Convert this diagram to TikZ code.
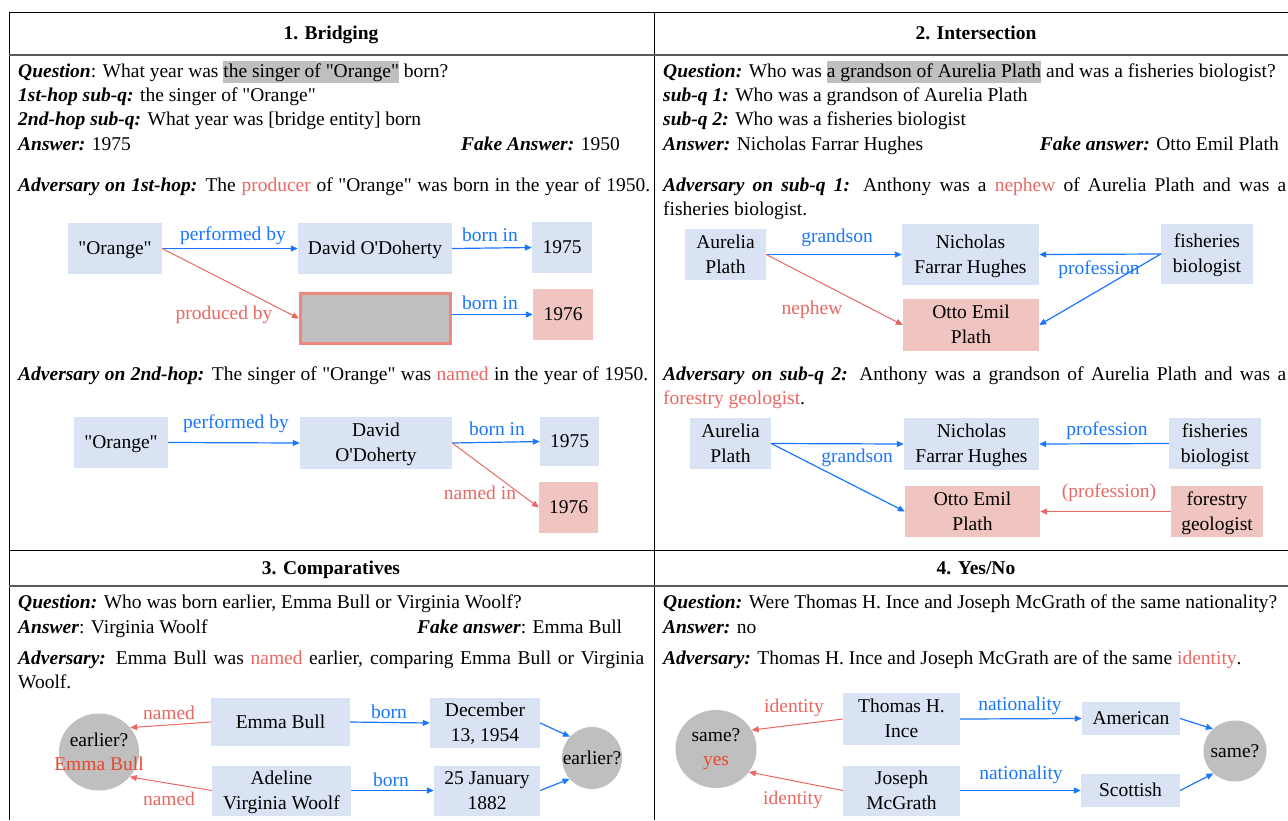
\documentclass[tikz,border=0pt]{standalone}
\usepackage{fontspec}
\setmainfont{Liberation Serif}
\usetikzlibrary{arrows.meta,shapes.geometric}
\definecolor{boxblue}{RGB}{218,227,243}
\definecolor{boxpink}{RGB}{240,196,192}
\definecolor{lblue}{RGB}{25,118,255}
\definecolor{lred}{RGB}{233,104,98}
\definecolor{sred}{RGB}{232,72,42}
\definecolor{cgray}{RGB}{191,191,191}
\definecolor{gborder}{RGB}{238,136,126}
\definecolor{hdrline}{RGB}{90,90,90}
\newcommand{\bi}[1]{\textbf{\textit{#1}}}
\newcommand{\hlx}[1]{{\setlength{\fboxsep}{0pt}\colorbox{cgray}{\rule[-6pt]{0pt}{22pt}#1}}}
\newcommand{\rd}[1]{\textcolor{lred}{#1}}
\newcommand{\zb}[1]{\makebox[0pt]{#1}}
\newcommand{\aps}{\textquotesingle}
\newcommand{\qq}{\textquotedbl}
\newcommand{\bs}{\rule[-6.5pt]{0pt}{25pt}}
\begin{document}
\begin{tikzpicture}[x=1pt,y=-1pt,
  every node/.style={inner sep=0pt, font=\fontsize{19.5}{24}\selectfont},
  txt/.style={anchor=base west},
  txte/.style={anchor=base east},
  hdr/.style={anchor=base, font=\fontsize{19.5}{24}\selectfont\bfseries},
  bx/.style={fill=boxblue, align=center, font=\fontsize{19.5}{25}\selectfont},
  pk/.style={bx, fill=boxpink},
  cir/.style={ellipse, fill=cgray, align=center},
  blbl/.style={text=lblue},
  rlbl/.style={text=lred},
  barr/.style={draw=lblue, line width=1.2pt, -{Triangle[length=7pt,width=6pt]}},
  rarr/.style={draw=lred, line width=1pt, -{Triangle[length=7pt,width=6pt]}},
]
\useasboundingbox (0,0) rectangle (1288,820);
\fill[white] (0,0) rectangle (1288,820);

% table
\draw[line width=1pt] (9,820) -- (9,12) -- (1288,12);
\draw[line width=1pt] (654,12) -- (654,820);
\draw[hdrline, line width=2pt] (9,54.5) -- (1288,54.5);
\draw[line width=1pt] (9,550.5) -- (1288,550.5);
\draw[hdrline, line width=2pt] (9,585.5) -- (1288,585.5);

\node[hdr] (h1) at (331,39) {1. Bridging};
\node[hdr] (h2) at (976,39) {2. Intersection};
\node[hdr] (h3) at (331,574) {3. Comparatives};
\node[hdr] (h4) at (976,574) {4. Yes/No};

% ---------- panel 1 ----------
\node[txt] (q1) at (18,77) {\bi{Question}: What year was \hlx{the singer of \qq Orange\qq} born?};
\node[txt] (s11) at (18,101.5) {\bi{1st-hop sub-q:} the singer of \qq Orange\qq};
\node[txt] (s12) at (18,125.5) {\bi{2nd-hop sub-q:} What year was [bridge entity] born};
\node[txt] (a1) at (18,150) {\bi{Answer:} 1975};
\node[txte] (f1) at (620,150) {\bi{Fake Answer:} 1950};
\node[txt] (adv11) at (18,191) {\makebox[632pt][s]{\bi{Adversary on 1st-hop:} The \rd{producer} of \qq Orange\qq{} was born in the year of 1950.}};

\node[bx, minimum width=94, minimum height=51] (o1) at (115,248.5) {\bs\qq Orange\qq\bs};
\node[bx, minimum width=154, minimum height=51] (d1) at (375,248.5) {\bs David O\aps Doherty\bs};
\node[bx, minimum width=60, minimum height=51] (y1) at (562,247.5) {\bs 1975\bs};
\node[fill=cgray, draw=gborder, line width=3pt, minimum width=150, minimum height=50] (g1) at (375.5,318.5) {};
\node[pk, minimum width=60, minimum height=51] (y2) at (563,314.5) {\bs 1976\bs};
\draw[barr] (o1.east) -- (d1.west);
\draw[barr] (d1.east) -- (y1.west);
\draw[rarr] (o1.east) -- (g1.west);
\draw[barr] (g1.east |- y2.west) -- (y2.west);
\node[blbl] (l1) at (233,236) {performed by};
\node[blbl] (l2) at (490,235) {born in};
\node[rlbl] (l3) at (224,315) {produced by};
\node[blbl] (l4) at (490,303) {born in};

\node[txt] (adv12) at (18,380) {\makebox[630pt][s]{\bi{Adversary on 2nd-hop:} The singer of \qq Orange\qq{} was \rd{named} in the year of 1950.}};

\node[bx, minimum width=94, minimum height=51] (o2) at (121,442.5) {\bs\qq Orange\qq\bs};
\node[bx, minimum width=152, minimum height=52] (d2) at (376,443) {\bs David\\O\aps Doherty\bs};
\node[bx, minimum width=59, minimum height=49] (y3) at (569.5,441.5) {\bs 1975\bs};
\node[pk, minimum width=59, minimum height=51] (y4) at (568.5,507.5) {\bs 1976\bs};
\draw[barr] (o2.east) -- (d2.west);
\draw[barr] (d2.east) -- (y3.west);
\draw[rarr] (d2.east) -- (y4.west);
\node[blbl] (l5) at (236,424) {performed by};
\node[blbl] (l6) at (497,429) {born in};
\node[rlbl] (l7) at (480,493) {named in};

% ---------- panel 2 ----------
\node[txt] (q2) at (663,77) {\bi{Question:} Who was \hlx{a grandson of Aurelia Plath} and was a fisheries biologist?};
\node[txt] (s21) at (663,101.5) {\bi{sub-q 1:} Who was a grandson of Aurelia Plath};
\node[txt] (s22) at (663,125.5) {\bi{sub-q 2:} Who was a fisheries biologist};
\node[txt] (a2) at (663,150) {\bi{Answer:} Nicholas Farrar Hughes};
\node[txte] (f2) at (1279,150) {\bi{Fake answer:} Otto Emil Plath};
\node[txt] (adv21) at (663,191) {\makebox[623pt][s]{\bi{Adversary on sub-q 1:} Anthony was a \rd{nephew} of Aurelia Plath and was a}};
\node[txt] (adv21b) at (663,215) {fisheries biologist.};

\node[bx, minimum width=81, minimum height=51] (ap1) at (725.5,254.5) {\bs Aurelia\\Plath\bs};
\node[bx, minimum width=137, minimum height=61] (nh1) at (970.5,254.5) {\bs Nicholas\\Farrar Hughes\bs};
\node[bx, minimum width=92, minimum height=60] (fb1) at (1207,254) {\bs fisheries\\biologist\bs};
\node[pk, minimum width=136, minimum height=52] (ot1) at (971,325) {\bs Otto Emil\\Plath\bs};
\draw[barr] (ap1.east) -- (nh1.west);
\draw[rarr] (ap1.east) -- (ot1.west);
\draw[barr] (fb1.west) -- (nh1.east);
\draw[barr] (fb1.west) -- (ot1.east);
\node[blbl] (l8) at (837,238) {grandson};
\node[rlbl] (l9) at (812,310) {nephew};
\node[blbl] (l10) at (1099,270) {profession};

\node[txt] (adv22) at (663,380) {\makebox[623pt][s]{\bi{Adversary on sub-q 2:} Anthony was a grandson of Aurelia Plath and was a}};
\node[txt] (adv22b) at (663,404) {\rd{forestry geologist}.};

\node[bx, minimum width=81, minimum height=51] (ap2) at (730.5,443.5) {\bs Aurelia\\Plath\bs};
\node[bx, minimum width=135, minimum height=52] (nh2) at (971.5,444) {\bs Nicholas\\Farrar Hughes\bs};
\node[bx, minimum width=92, minimum height=51] (fb2) at (1215,443.5) {\bs fisheries\\biologist\bs};
\node[pk, minimum width=135, minimum height=51] (ot2) at (972.5,511.5) {\bs Otto Emil\\Plath\bs};
\node[pk, minimum width=92, minimum height=51] (fg2) at (1217,511.5) {\bs forestry\\geologist\bs};
\draw[barr] (ap2.east) -- (nh2.west);
\draw[barr] (ap2.east) -- (ot2.west);
\draw[barr] (fb2.west) -- (nh2.east);
\draw[rarr] (fg2.west) -- (ot2.east);
\node[blbl] (l11) at (857,458) {grandson};
\node[blbl] (l12) at (1107,431) {profession};
\node[rlbl] (l13) at (1109,493) {(profession)};

% ---------- panel 3 ----------
\node[txt] (q3) at (18,608) {\bi{Question:} Who was born earlier, Emma Bull or Virginia Woolf?};
\node[txt] (a3) at (18,633) {\bi{Answer}: Virginia Woolf};
\node[txt] (f3) at (417,633) {\bi{Fake answer}: Emma Bull};
\node[txt] (adv3) at (18,664) {\makebox[626pt][s]{\bi{Adversary:} Emma Bull was \rd{named} earlier, comparing Emma Bull or Virginia}};
\node[txt] (adv3b) at (18,688) {Woolf.};

\node[bx, minimum width=139, minimum height=48] (eb) at (280.5,722) {\bs Emma Bull\bs};
\node[bx, minimum width=110, minimum height=48] (dec) at (485,723) {\bs December\\13, 1954\bs};
\node[bx, minimum width=139, minimum height=47] (avw) at (281.5,790.5) {\bs Adeline\\Virginia Woolf\bs};
\node[bx, minimum width=106, minimum height=47] (jan) at (487,790.5) {\bs 25 January\\1882\bs};
\node[cir, minimum width=80, minimum height=77] (c3l) at (99,752) {\zb{earlier?}\\\zb{\textcolor{sred}{Emma Bull}}};
\node[cir, minimum width=60, minimum height=62] (c3r) at (592,758) {\zb{earlier?}};
\draw[rarr] (eb.west) -- (c3l.38);
\draw[rarr] (avw.west) -- (c3l.-39);
\draw[barr] (eb.east) -- (dec.west);
\draw[barr] (avw.east) -- (jan.west);
\draw[barr] (dec.east) -- (c3r.136);
\draw[barr] (jan.east) -- (c3r.223);
\node[rlbl] (l14) at (169,713) {named};
\node[rlbl] (l15) at (169,799) {named};
\node[blbl] (l16) at (389,712) {born};
\node[blbl] (l17) at (391,780) {born};

% ---------- panel 4 ----------
\node[txt] (q4) at (663,608) {\bi{Question:} Were Thomas H. Ince and Joseph McGrath of the same nationality?};
\node[txt] (a4) at (663,633) {\bi{Answer:} no};
\node[txt] (adv4) at (663,664) {\bi{Adversary:} Thomas H. Ince and Joseph McGrath are of the same \rd{identity}.};

\node[bx, minimum width=117, minimum height=52] (th) at (901.5,719) {\bs Thomas H.\\Ince\bs};
\node[bx, minimum width=117, minimum height=47] (jm) at (901.5,790.5) {\bs Joseph\\McGrath\bs};
\node[bx, minimum width=98, minimum height=33] (am) at (1131,718.5) {\bs American\bs};
\node[bx, minimum width=99, minimum height=33] (sc) at (1130.5,790.5) {\bs Scottish\bs};
\node[cir, minimum width=81, minimum height=78] (c4l) at (716,749) {\zb{same?}\\\zb{\textcolor{sred}{yes}}};
\node[cir, minimum width=63, minimum height=61] (c4r) at (1235,751) {\zb{same?}};
\draw[rarr] (th.west) -- (c4l.28);
\draw[rarr] (jm.west) -- (c4l.-35);
\draw[barr] (th.east) -- (am.west);
\draw[barr] (jm.east) -- (sc.west);
\draw[barr] (am.east) -- (c4r.135);
\draw[barr] (sc.east) -- (c4r.226);
\node[rlbl] (l18) at (794,708) {identity};
\node[rlbl] (l19) at (793,800) {identity};
\node[blbl] (l20) at (1020,706) {nationality};
\node[blbl] (l21) at (1021,775) {nationality};
\end{tikzpicture}
\end{document}
